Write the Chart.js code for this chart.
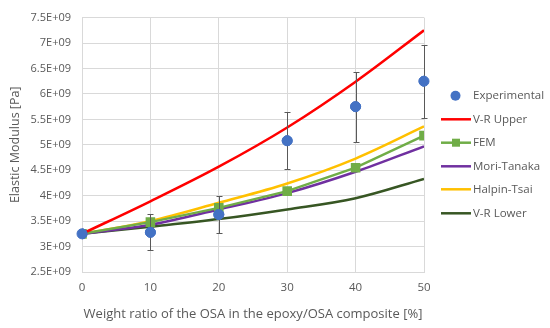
<!DOCTYPE html>
<html>
<head>
<meta charset="utf-8">
<script src="https://cdn.jsdelivr.net/npm/chart.js@4/dist/chart.umd.min.js"></script>
<style>
  html, body { margin: 0; padding: 0; background: #fff; }
  #wrap { width: 550px; height: 328px; }
</style>
</head>
<body>
<div id="wrap"><canvas id="modulus" width="550" height="328"></canvas></div>
<script>
// weight ratio [%]
var weightRatio = [0, 10, 20, 30, 40, 50];
// values in units of 1E+09 Pa
var experimental = [3.25, 3.28, 3.63, 5.08, 5.75, 6.25];
var expError = [0, 0.355, 0.36, 0.555, 0.69, 0.72];
var vrUpper = [3.25, 3.89, 4.57, 5.34, 6.24, 7.25];
var fem = [3.25, 3.48, 3.76, 4.09, 4.55, 5.18];
var moriTanaka = [3.25, 3.43, 3.73, 4.05, 4.47, 4.97];
var halpinTsai = [3.25, 3.50, 3.86, 4.24, 4.73, 5.36];
var vrLower = [3.25, 3.39, 3.54, 3.73, 3.95, 4.33];
var yTicks = [2.5, 3, 3.5, 4, 4.5, 5, 5.5, 6, 6.5, 7, 7.5];

var FONT = "'Open Sans', sans-serif";
var TXT = '#595959';

function pts(arr) {
    return weightRatio.map(function(x, i) { return {x: x, y: arr[i] * 1e9}; });
}

var errorBars = {
    id: 'errorBars',
    afterDatasetsDraw: function(chart) {
        var ctx = chart.ctx, xs = chart.scales.x, ys = chart.scales.y;
        ctx.save();
        ctx.strokeStyle = '#595959';
        ctx.lineWidth = 1;
        weightRatio.forEach(function(x, i) {
            if (!expError[i]) return;
            var px = Math.round(xs.getPixelForValue(x)) + 0.5;
            var top = Math.round(ys.getPixelForValue((experimental[i] + expError[i]) * 1e9)) + 0.5;
            var bot = Math.round(ys.getPixelForValue((experimental[i] - expError[i]) * 1e9)) + 0.5;
            ctx.beginPath();
            ctx.moveTo(px, top); ctx.lineTo(px, bot);
            ctx.moveTo(px - 3, top); ctx.lineTo(px + 3, top);
            ctx.moveTo(px - 3, bot); ctx.lineTo(px + 3, bot);
            ctx.stroke();
        });
        // redraw experimental points on top of the bars
        var meta = chart.getDatasetMeta(0);
        meta.data.forEach(function(el) { el.draw(ctx); });
        ctx.restore();
    }
};

var sideLegend = {
    id: 'sideLegend',
    afterDraw: function(chart) {
        var ctx = chart.ctx;
        var rows = [95.7, 119.3, 142.7, 166.3, 189.3, 213.3];
        ctx.save();
        ctx.font = '11.5px ' + FONT;
        ctx.textBaseline = 'middle';
        chart.data.datasets.forEach(function(ds, i) {
            var y = rows[i];
            if (!ds.showLine) {
                ctx.fillStyle = ds.backgroundColor;
                ctx.beginPath();
                ctx.arc(455.5, y, 5, 0, Math.PI * 2);
                ctx.fill();
            } else {
                ctx.strokeStyle = ds.borderColor;
                ctx.lineWidth = 2.5;
                ctx.beginPath();
                ctx.moveTo(441, y); ctx.lineTo(471, y);
                ctx.stroke();
                if (ds.pointRadius > 0) {
                    ctx.fillStyle = ds.backgroundColor;
                    ctx.fillRect(452, y - 4, 8, 8);
                }
            }
            ctx.fillStyle = TXT;
            ctx.fillText(ds.label, 473, y + 0.5);
        });
        ctx.restore();
    }
};

var lineSet = function(label, data, color, tension) {
    return {
        label: label,
        data: pts(data),
        showLine: true,
        borderColor: color,
        backgroundColor: color,
        borderWidth: 2.5,
        pointRadius: 0,
        tension: tension
    };
};

var femSet = lineSet('FEM', fem, '#70AD47', 0);
femSet.pointStyle = 'rect';
femSet.pointRadius = 5;

new Chart(document.getElementById('modulus').getContext('2d'), {
    type: 'scatter',
    data: {
        datasets: [
            {
                label: 'Experimental',
                data: pts(experimental),
                showLine: false,
                backgroundColor: '#4472C4',
                borderColor: '#4472C4',
                pointRadius: 5,
                order: 0
            },
            lineSet('V-R Upper', vrUpper, '#FF0000', 0.35),
            femSet,
            lineSet('Mori-Tanaka', moriTanaka, '#7030A0', 0.35),
            lineSet('Halpin-Tsai', halpinTsai, '#FFC000', 0.35),
            lineSet('V-R Lower', vrLower, '#375623', 0.35)
        ]
    },
    options: {
        responsive: false,
        animation: false,
        layout: { padding: { left: 8, right: 126, top: 13, bottom: 0 } },
        plugins: {
            legend: { display: false },
            tooltip: { enabled: false }
        },
        scales: {
            x: {
                type: 'linear',
                min: 0, max: 50,
                ticks: { stepSize: 10, color: TXT, font: { family: FONT, size: 11.5 }, padding: 9 },
                grid: { color: '#D9D9D9', drawTicks: false },
                border: { color: '#D9D9D9' },
                title: {
                    display: true,
                    text: 'Weight ratio of the OSA in the epoxy/OSA composite [%]',
                    color: TXT,
                    font: { family: FONT, size: 13 },
                    padding: { top: 4, bottom: 6 }
                },
                afterFit: function(scale) { scale.height = 56; }
            },
            y: {
                min: 2.5e9, max: 7.5e9,
                afterBuildTicks: function(scale) {
                    scale.ticks = yTicks.map(function(v) { return {value: v * 1e9}; });
                },
                ticks: {
                    color: TXT,
                    font: { family: FONT, size: 11 },
                    padding: 11,
                    callback: function(v) { return (v / 1e9) + 'E+09'; }
                },
                grid: { color: '#D9D9D9', drawTicks: false },
                border: { color: '#D9D9D9' },
                title: {
                    display: true,
                    text: 'Elastic Modulus [Pa]',
                    color: TXT,
                    font: { family: FONT, size: 12.5 },
                    padding: { top: 0, bottom: 4 }
                },
                afterFit: function(scale) { scale.width = 74; }
            }
        }
    },
    plugins: [errorBars, sideLegend]
});
</script>
</body>
</html>
